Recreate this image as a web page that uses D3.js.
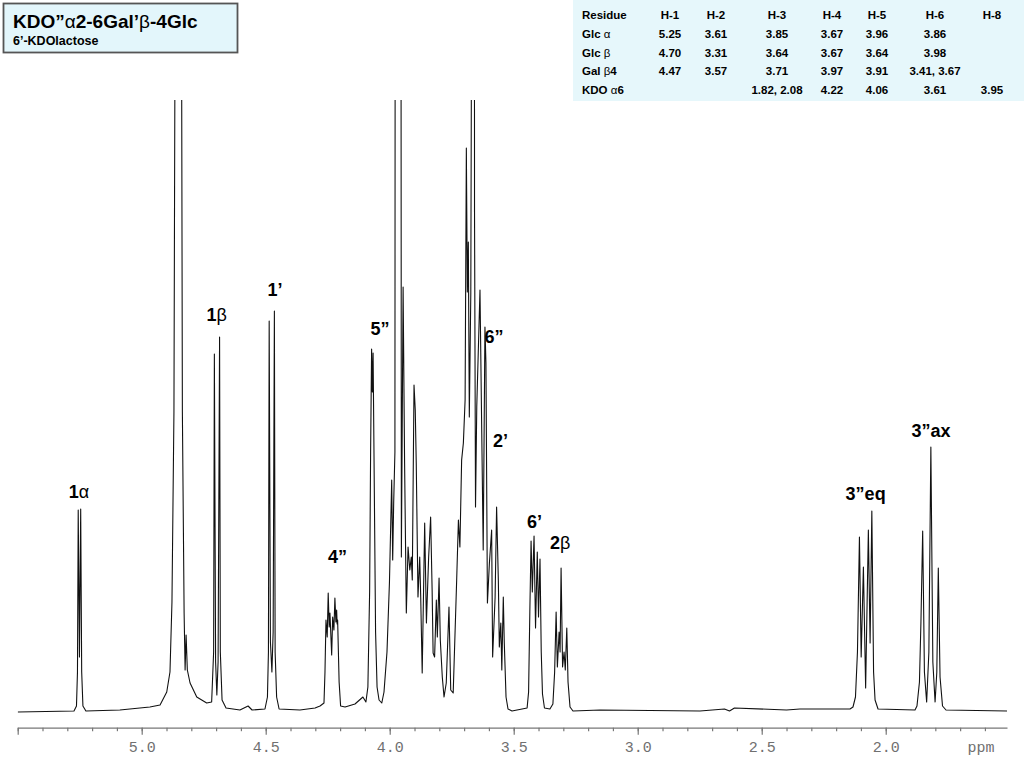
<!DOCTYPE html>
<html>
<head>
<meta charset="utf-8">
<script src="https://cdn.jsdelivr.net/npm/d3@7"></script>
<style>
  body { margin: 0; background: #fff; }
  svg { display: block; }
</style>
</head>
<body>
<div id="chart"></div>
<script>
//DATA
// spectrum vertices: [ppm, intensity above baseline]
const spectrum = [
  [5.500,0],[5.273,1],[5.263,6],[5.259,40],[5.256,202],[5.251,55],[5.246,203],[5.242,40],[5.237,6],[5.225,1],
  [5.088,2],[4.967,5],[4.926,7],[4.899,20],[4.886,40],[4.878,110],[4.870,300],[4.862,1000],[4.852,4000],[4.842,1000],
  [4.836,300],[4.829,99],[4.825,42],[4.821,77],[4.816,42],[4.805,29],[4.778,15],[4.738,9],[4.718,10],
  [4.710,60],[4.707,358],[4.702,50],[4.697,17],[4.692,50],[4.686,375],[4.683,60],[4.676,12],[4.660,4],[4.604,2],
  [4.571,6],[4.555,2],[4.503,3],[4.493,15],[4.489,60],[4.486,391],[4.481,70],[4.475,40],[4.470,80],[4.465,401],
  [4.462,60],[4.456,15],[4.446,3],[4.362,2],[4.301,4],[4.281,6],[4.265,9],[4.261,40],[4.257,92],[4.252,75],
  [4.248,119],[4.244,85],[4.241,99],[4.234,57],[4.230,95],[4.225,82],[4.221,114],[4.217,90],[4.214,102],[4.212,88],
  [4.210,92],[4.204,30],[4.198,6],[4.180,5],[4.140,8],[4.108,15],[4.096,10],[4.088,25],[4.081,120],[4.077,260],
  [4.073,363],[4.070,320],[4.067,359],[4.062,220],[4.057,80],[4.051,25],[4.043,12],[4.032,9],[4.023,20],[4.011,60],
  [4.001,130],[3.992,232],[3.988,152],[3.984,209],[3.979,260],[3.973,3000],[3.967,700],[3.960,3000],[3.953,155],[3.946,425],
  [3.940,249],[3.933,99],[3.926,165],[3.919,142],[3.913,155],[3.909,132],[3.902,327],[3.897,302],[3.893,249],[3.886,115],
  [3.879,155],[3.875,115],[3.869,39],[3.859,189],[3.852,89],[3.843,155],[3.835,195],[3.829,122],[3.825,59],[3.819,55],
  [3.812,112],[3.808,75],[3.801,134],[3.796,72],[3.788,35],[3.781,15],[3.772,29],[3.761,105],[3.754,22],[3.744,19],
  [3.730,132],[3.723,192],[3.717,165],[3.710,252],[3.703,269],[3.696,312],[3.691,564],[3.687,420],[3.683,470],[3.679,295],
  [3.673,419],[3.670,700],[3.666,3000],[3.662,3000],[3.658,500],[3.654,205],[3.649,305],[3.636,422],[3.629,282],[3.623,162],
  [3.616,385],[3.612,349],[3.606,109],[3.598,149],[3.589,182],[3.585,55],[3.575,115],[3.569,205],[3.562,132],[3.558,65],
  [3.552,89],[3.548,42],[3.542,115],[3.538,69],[3.531,15],[3.523,3],[3.507,1],[3.446,4],[3.440,20],[3.435,100],
  [3.430,171],[3.425,120],[3.418,176],[3.412,84],[3.405,160],[3.400,95],[3.394,153],[3.389,60],[3.384,18],[3.376,4],
  [3.354,3],[3.342,8],[3.335,40],[3.329,100],[3.324,45],[3.317,80],[3.313,60],[3.309,144],[3.303,45],[3.297,60],
  [3.292,42],[3.286,84],[3.281,30],[3.273,5],[3.261,1],[3.152,2],[2.749,1],[2.650,3],[2.630,1],[2.610,4],
  [2.400,2],[2.346,3],[2.144,3],[2.132,5],[2.122,15],[2.114,60],[2.106,175],[2.099,55],[2.090,145],[2.081,24],
  [2.070,182],[2.063,69],[2.056,201],[2.049,40],[2.043,12],[2.031,3],[1.882,2],[1.874,6],[1.864,30],[1.858,90],
  [1.851,181],[1.844,40],[1.835,10],[1.826,60],[1.818,265],[1.810,50],[1.801,10],[1.794,40],[1.788,144],[1.781,35],
  [1.771,6],[1.757,2],[1.511,1]
];

// assignment labels: [text, ppm, intensity of baseline]
const peakLabels = [
  ["1α",5.253,214],["1β",4.698,391],["1’",4.463,416],["4”",4.210,149],["5”",4.039,377],
  ["6”",3.579,369],["2’",3.553,265],["6’",3.416,184],["2β",3.313,163],["3”eq",2.081,212],["3”ax",1.817,275]
];

const tickPpm = [5.0, 4.5, 4.0, 3.5, 3.0, 2.5, 2.0];

const tableHeader = ["Residue","H-1","H-2","H-3","H-4","H-5","H-6","H-8"];
const residues = ["Glc α","Glc β","Gal β4","KDO α6"];
const shiftTable = [
  ["5.25","3.61","3.85","3.67","3.96","3.86",""],
  ["4.70","3.31","3.64","3.67","3.64","3.98",""],
  ["4.47","3.57","3.71","3.97","3.91","3.41, 3.67",""],
  ["","","1.82, 2.08","4.22","4.06","3.61","3.95"]
];

const title = "KDO”α2-6Gal’β-4Glc";
const subtitle = "6’-KDOlactose";

//SETUP
const width = 1024, height = 768;
const sans = "'Liberation Sans', Arial, Helvetica, sans-serif";
const mono = "'Liberation Mono', 'Courier New', monospace";

const svg = d3.select("#chart").append("svg")
  .attr("width", width)
  .attr("height", height)
  .style("background", "#fff");

const x = d3.scaleLinear().domain([5.5, 1.511]).range([17.7, 1007]);
const y = d3.scaleLinear().domain([0, 612]).range([712, 100]);

// greek letters are set in a lighter weight
const greek = /[\u03b1-\u03c9]/;
function addRuns(sel, str) {
  const runs = [];
  for (const ch of str) {
    const g = greek.test(ch);
    if (runs.length && runs[runs.length - 1].g === g) runs[runs.length - 1].t += ch;
    else runs.push({t: ch, g: g});
  }
  sel.selectAll("tspan").data(runs).join("tspan")
    .attr("font-weight", d => d.g ? "normal" : null)
    .text(d => d.t);
}

const defs = svg.append("defs");
defs.append("clipPath").attr("id", "plotClip")
  .append("rect").attr("x", 17.7).attr("y", 100).attr("width", 1007 - 17.7).attr("height", 630);
defs.append("clipPath").attr("id", "axisClip")
  .append("rect").attr("x", 0).attr("y", -20).attr("width", 1007).attr("height", 60);

//SPECTRUM
const line = d3.line().x(d => x(d[0])).y(d => y(d[1]));
svg.append("path")
  .datum(spectrum)
  .attr("clip-path", "url(#plotClip)")
  .attr("fill", "none")
  .attr("stroke", "#111")
  .attr("stroke-width", 1.1)
  .attr("stroke-linejoin", "round")
  .attr("d", line);

//AXIS
const axisY = 727.7;
const minorTicks = d3.range(55, 15, -1).map(v => v / 10);
const gMinor = svg.append("g").attr("transform", `translate(0,${axisY})`)
  .call(d3.axisBottom(x).tickValues(minorTicks).tickSize(3.5).tickSizeOuter(0).tickFormat(""));
const gMajor = svg.append("g").attr("transform", `translate(0,${axisY})`)
  .attr("clip-path", "url(#axisClip)")
  .call(d3.axisBottom(x).tickValues([5.5].concat(tickPpm)).tickSize(7).tickSizeOuter(0)
    .tickFormat(d => tickPpm.includes(d) ? d3.format(".1f")(d) : ""));
gMajor.select(".domain").remove();
svg.selectAll(".domain, .tick line").attr("stroke", "#777").attr("stroke-width", 1.2);
gMajor.selectAll(".tick text")
  .attr("y", 24).attr("dy", 0)
  .attr("font-family", mono).attr("font-size", 15).attr("fill", "#707070");
gMajor.append("text")
  .attr("x", 981).attr("y", 24)
  .attr("font-family", mono).attr("font-size", 15).attr("fill", "#707070")
  .text("ppm");

//PEAK LABELS
svg.selectAll(".peak-label")
  .data(peakLabels)
  .join("text")
  .attr("class", "peak-label")
  .attr("x", d => x(d[1]))
  .attr("y", d => y(d[2]))
  .attr("text-anchor", "middle")
  .attr("font-family", sans)
  .attr("font-size", 18)
  .attr("font-weight", "bold")
  .attr("fill", "#000")
  .each(function(d) { addRuns(d3.select(this), d[0]); });

//TITLE BOX
svg.append("rect")
  .attr("x", 3.5).attr("y", 3.5).attr("width", 234).attr("height", 49)
  .attr("fill", "#e3f6fb").attr("stroke", "#555").attr("stroke-width", 1.8);
const t1 = svg.append("text").attr("x", 13).attr("y", 28)
  .attr("font-family", sans).attr("font-size", 19).attr("font-weight", "bold");
addRuns(t1, title);
svg.append("text").attr("x", 13).attr("y", 45)
  .attr("font-family", sans).attr("font-size", 12.5).attr("font-weight", "bold")
  .text(subtitle);

//TABLE
const colX = [670, 716, 777, 832, 877, 935, 992];
const rowY = i => 19 + 18.75 * i;
const table = svg.append("g");
table.append("rect")
  .attr("x", 573).attr("y", 0).attr("width", width - 573).attr("height", 101)
  .attr("fill", "#e6f7fb");
table.selectAll(".hdr")
  .data(tableHeader)
  .join("text")
  .attr("class", "hdr")
  .attr("x", (d, i) => i === 0 ? 582 : colX[i - 1])
  .attr("y", rowY(0))
  .attr("text-anchor", (d, i) => i === 0 ? "start" : "middle")
  .attr("font-family", sans).attr("font-size", 11.5).attr("font-weight", "bold")
  .text(d => d);
residues.forEach((r, ri) => {
  const tr = table.append("text")
    .attr("x", 582).attr("y", rowY(ri + 1))
    .attr("font-family", sans).attr("font-size", 11.5).attr("font-weight", "bold");
  addRuns(tr, r);
  table.selectAll(".cell-" + ri)
    .data(shiftTable[ri])
    .join("text")
    .attr("class", "cell-" + ri)
    .attr("x", (d, i) => colX[i])
    .attr("y", rowY(ri + 1))
    .attr("text-anchor", "middle")
    .attr("font-family", sans).attr("font-size", 11.5).attr("font-weight", "bold")
    .text(d => d);
});
</script>
</body>
</html>
